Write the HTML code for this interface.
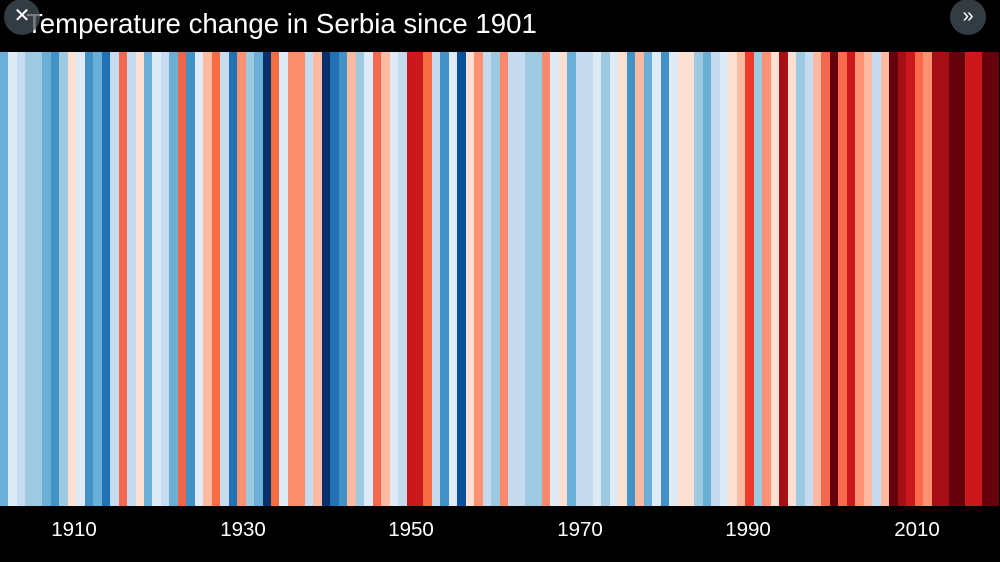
<!DOCTYPE html>
<html><head><meta charset="utf-8"><style>
html,body{margin:0;padding:0;background:#000;width:1000px;height:562px;overflow:hidden;font-family:"Liberation Sans",sans-serif}
#top{position:absolute;left:0;top:0;width:1000px;height:52px;background:#000}
#title{position:absolute;left:26px;top:8px;color:#fff;font-size:27.6px;white-space:nowrap}
.btn{position:absolute;width:36px;height:36px;border-radius:50%;background:rgba(70,80,90,0.75);color:#fff;text-align:center;line-height:34px;font-size:20px}
#stripes{position:absolute;left:0;top:52px;width:1000px;height:454px;display:flex}
#stripes div{flex:1 1 0;height:100%}
#bot{position:absolute;left:0;top:506px;width:1000px;height:56px;background:#000}
.lb{position:absolute;top:518px;color:#fff;font-size:20.5px;width:80px;margin-left:-40px;text-align:center}
</style></head><body>
<div id="top"></div>
<div id="title">Temperature change in Serbia since 1901</div>
<div class="btn" style="left:4px;top:-1px">✕</div>
<div class="btn" style="left:950px;top:-1px">»</div>
<div id="stripes"></div>
<div id="bot"></div>
<div class="lb" style="left:74px">1910</div>
<div class="lb" style="left:243px">1930</div>
<div class="lb" style="left:411px">1950</div>
<div class="lb" style="left:580px">1970</div>
<div class="lb" style="left:748px">1990</div>
<div class="lb" style="left:917px">2010</div>
<script>
var c=["#6baed6","#deebf7","#c6dbef","#9ecae1","#9ecae1","#6baed6","#4292c6","#9ecae1","#fee0d2","#deebf7","#4292c6","#6baed6","#2171b5","#c6dbef","#f4694e","#c6dbef","#fee0d2","#6baed6","#deebf7","#c6dbef","#6baed6","#ef6548","#4292c6","#deebf7","#fcbba1","#f46d43","#c6dbef","#2171b5","#fc9272",
"#9ecae1","#6baed6","#08306b","#f46d43","#deebf7","#fc8d6d","#fc8d6d","#c6dbef","#fcbba1","#08306b","#2171b5","#4292c6","#fcbba1","#9ecae1","#deebf7","#f4694e","#fcbba1","#deebf7","#c6dbef","#cb181d","#cb181d","#f46d43","#c6dbef","#4292c6","#deebf7","#08519c","#fee0d2","#fc9272","#c6dbef","#9ecae1",
"#fc8a6a","#c6dbef","#c6dbef","#9ecae1","#9ecae1","#fc8a6a","#deebf7","#fee0d2","#6baed6","#c6dbef","#c6dbef","#deebf7","#9ecae1","#deebf7","#fee0d2","#4292c6","#fcbba1","#6baed6","#deebf7","#4292c6","#deebf7","#fee0d2","#fee0d2","#9ecae1","#6baed6","#c6dbef","#deebf7","#fee0d2","#fcbba1","#ef3b2c",
"#9ecae1","#fc9272","#fee0d2","#a50f15","#fee0d2","#9ecae1","#c6dbef","#fcbba1","#f4694e","#67000d","#fb6a4a","#cb181d","#fc9272","#fcbba1","#c6dbef","#fcbba1","#67000d","#a50f15","#cb181d","#fb6a4a","#fc9272","#a50f15","#a50f15","#67000d","#67000d","#cb181d","#cb181d","#67000d","#67000d"];
var s=document.getElementById("stripes");
c.forEach(function(x){var d=document.createElement("div");d.style.background=x;s.appendChild(d);});
</script>
</body></html>
